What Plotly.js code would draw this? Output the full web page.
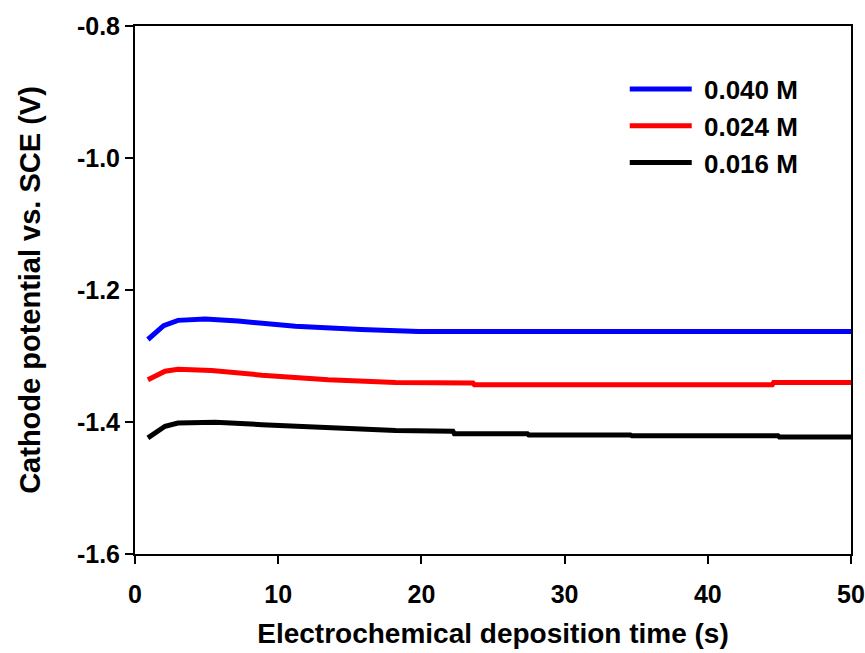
<!DOCTYPE html>
<html>
<head>
<meta charset="utf-8">
<script src="https://cdn.plot.ly/plotly-3.0.1.min.js"></script>
<style>html,body{margin:0;padding:0;background:#fff;}</style>
</head>
<body>
<div id="chart" style="width:865px;height:653px;"></div>
<script>
const seriesNames = ["0.040 M", "0.024 M", "0.016 M"];
const seriesColors = ["#0000ff", "#ff0000", "#000000"];

const time040 = [0.9, 2.0, 3.0, 4.9, 7.2, 11.2, 15.8, 19.8, 30, 40, 50];
const pot040 = [-1.275, -1.254, -1.246, -1.244, -1.247, -1.255, -1.260, -1.263, -1.263, -1.263, -1.263];

const time024 = [0.9, 2.1, 3.0, 5.35, 8.86, 13.5, 18.2, 20.5, 23.6, 23.7, 44.5, 44.6, 50];
const pot024 = [-1.336, -1.323, -1.320, -1.322, -1.329, -1.336, -1.340, -1.341, -1.341, -1.3435, -1.3435, -1.340, -1.340];

const time016 = [0.9, 2.1, 3.0, 5.6, 8.86, 13.5, 18.2, 22.2, 22.3, 27.4, 27.5, 34.6, 34.7, 44.9, 45.0, 50];
const pot016 = [-1.424, -1.4065, -1.4015, -1.4005, -1.404, -1.409, -1.413, -1.414, -1.4177, -1.4177, -1.4197, -1.4197, -1.4207, -1.4207, -1.4227, -1.4227];

const xTicks = [0, 10, 20, 30, 40, 50];
const xTickText = ["0", "10", "20", "30", "40", "50"];
const yTicks = [-1.6, -1.4, -1.2, -1.0, -0.8];
const yTickText = ["-1.6", "-1.4", "-1.2", "-1.0", "-0.8"];

const xTitle = "Electrochemical deposition time (s)";
const yTitle = "Cathode potential vs. SCE (V)";

const xs = [time040, time024, time016];
const ys = [pot040, pot024, pot016];
const b = s => "<b>" + s + "</b>";

const traces = xs.map((x, i) => ({
  x: x, y: ys[i], type: "scatter", mode: "lines", name: "\u00a0" + b(seriesNames[i]),
  line: {color: seriesColors[i], width: 5}
}));

const fontFam = "Liberation Sans, Arial, sans-serif";
const layout = {
  width: 865, height: 653,
  margin: {l: 135, r: 14, t: 26, b: 99},
  paper_bgcolor: "#fff", plot_bgcolor: "#fff",
  showlegend: true,
  legend: {x: 0.684, y: 0.925, xanchor: "left", yanchor: "top",
    font: {family: fontFam, size: 26, color: "#000"},
    bgcolor: "rgba(0,0,0,0)", tracegroupgap: 0, itemwidth: 62},
  xaxis: {
    range: [0, 50], tickvals: xTicks, ticktext: xTickText.map(b), ticks: "outside", ticklen: 8, tickwidth: 2, tickcolor: "#000",
    ticklabelstandoff: 9,
    showline: true, linecolor: "#000", linewidth: 2, mirror: true, showgrid: false, zeroline: false,
    tickfont: {family: fontFam, size: 25, color: "#000"},
    title: {text: b(xTitle), standoff: 16,
      font: {family: fontFam, size: 28, color: "#000"}}
  },
  yaxis: {
    range: [-1.6, -0.8], tickvals: yTicks, ticktext: yTickText.map(b), ticks: "outside", ticklen: 8, tickwidth: 2, tickcolor: "#000",
    showline: true, linecolor: "#000", linewidth: 2, mirror: true, showgrid: false, zeroline: false,
    tickfont: {family: fontFam, size: 25, color: "#000"},
    title: {text: b(yTitle), standoff: 28,
      font: {family: fontFam, size: 29, color: "#000"}}
  }
};

Plotly.newPlot("chart", traces, layout, {displayModeBar: false, staticPlot: true});
</script>
</body>
</html>
